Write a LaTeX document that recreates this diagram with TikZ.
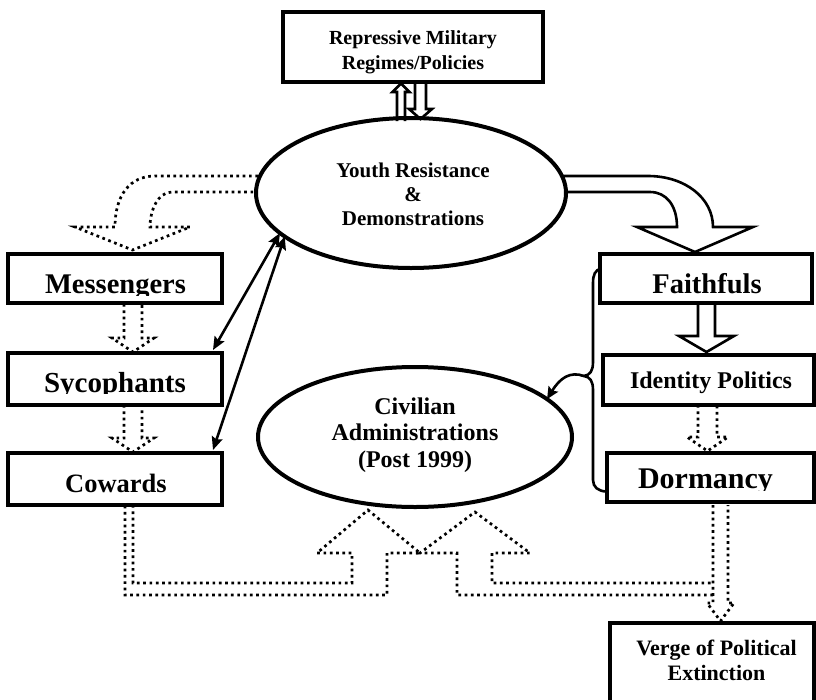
\documentclass[tikz,border=0pt]{standalone}
\usepackage{fontspec}
\setmainfont{Liberation Serif}
\usetikzlibrary{arrows.meta,shapes.geometric,calc}
\begin{document}
\begin{tikzpicture}[x=1pt,y=-1pt,
  boxn/.style={draw, line width=3.3pt, inner sep=0pt, outer sep=0pt},
  ell/.style={draw, ellipse, line width=4pt, inner sep=0pt, outer sep=0pt},
  txt/.style={align=center, inner sep=0pt, outer sep=0pt},
  blk/.style={line width=2.6pt, line join=miter},
  dotb/.style={line width=2.7pt, dash pattern=on 2.7pt off 3.6pt},
  tip/.style={line width=2.6pt},
  conn/.style={tip, {Stealth[length=13pt,width=11pt,inset=2pt]}-{Stealth[length=13pt,width=11pt,inset=2pt]}},
  one/.style={tip, -{Stealth[length=12pt,width=11pt,inset=2pt]}},
]
\useasboundingbox (0,0) rectangle (816,699);

% ---------- nodes ----------
\node[boxn, minimum width=260pt, minimum height=70pt] (rep) at (413,47) {};
\node[txt, font=\bfseries\fontsize{20}{25}\selectfont] (repT) at (413,52.5) {Repressive Military\\Regimes/Policies};

\node[ell, minimum width=310pt, minimum height=150pt] (youth) at (411,193) {};
\node[txt, font=\bfseries\fontsize{21}{24}\selectfont] (youthT) at (413,194.5) {Youth Resistance\\\&\\Demonstrations};

\node[ell, minimum width=314pt, minimum height=140pt] (civ) at (415,437) {};
\node[txt, font=\bfseries\fontsize{24}{26.5}\selectfont] (civT) at (415,435) {Civilian\\Administrations\\(Post 1999)};

\node[boxn, minimum width=214pt, minimum height=49pt] (mess) at (115,278.5) {};
\node[boxn, minimum width=214pt, minimum height=52pt] (syc) at (115,379) {};
\node[boxn, minimum width=214pt, minimum height=52pt] (cow) at (115,479) {};
\node[boxn, minimum width=212pt, minimum height=49pt] (faith) at (706,278.5) {};
\node[boxn, minimum width=211pt, minimum height=50pt] (ident) at (708.5,380) {};
\node[boxn, minimum width=207pt, minimum height=49pt] (dorm) at (710.5,477.5) {};
\node[boxn, minimum width=204pt, minimum height=92pt] (verge) at (712,669) {};

\begin{scope}
  \clip (10,256) rectangle (220,295.5);
  \node[txt, font=\bfseries\fontsize{28.5}{30}\selectfont, anchor=base] (messT) at (115.5,293) {Messengers};
\end{scope}
\begin{scope}
  \clip (10,355) rectangle (220,393.5);
  \node[txt, font=\bfseries\fontsize{29}{30}\selectfont, anchor=base] (sycT) at (115,392) {Sycophants};
\end{scope}
\node[txt, font=\bfseries\fontsize{26.5}{30}\selectfont, anchor=base] (cowT) at (116,492) {Cowards};
\node[txt, font=\bfseries\fontsize{28.5}{30}\selectfont, anchor=base] (faithT) at (707,293) {Faithfuls};
\node[txt, font=\bfseries\fontsize{24}{26}\selectfont, anchor=base] (identT) at (711,388) {Identity Politics};
\begin{scope}
  \clip (609,455) rectangle (812,490);
  \node[txt, font=\bfseries\fontsize{30}{32}\selectfont, anchor=base] (dormT) at (705.5,488) {Dormancy};
\end{scope}
\node[txt, font=\bfseries\fontsize{22}{25}\selectfont] (vergeT) at (716.5,660) {Verge of Political\\Extinction};

% ---------- block arrows ----------
% between repressive box and youth ellipse
\draw[blk] (397,121) -- (397,92) -- (392.5,92) -- (401,83.5) -- (409.5,92) -- (405,92) -- (405,121);
\draw[blk] (415,82) -- (415,109) -- (409,109) -- (420.5,119) -- (432,109) -- (426,109) -- (426,82);

% youth -> faithfuls (solid hollow curved)
\draw[blk] (563,176) -- (648,176) .. controls (685,176) and (713,198) .. (713,227)
  -- (753,227) -- (695,252) -- (637,227) -- (677,227)
  .. controls (677,205) and (666,192) .. (650,192) -- (566,192);

% youth -> messengers (dotted hollow curved)
\draw[dotb] (258,176) -- (155,176) .. controls (130,176) and (115,195) .. (115,227)
  -- (75,227) -- (132.5,250) -- (190,227) -- (150,227)
  .. controls (150,210) and (158,192) .. (172,192) -- (255,192);

% faithfuls -> identity (solid)
\draw[blk] (698,304) -- (698,336) -- (679,336) -- (706.5,352) -- (734,336) -- (715,336) -- (715,304);

% dotted small arrows
\draw[dotb] (124,304) -- (124,338) -- (112,338) -- (133,352) -- (154,338) -- (142,338) -- (142,304);
\draw[dotb] (124,405) -- (124,438) -- (112,438) -- (133,452) -- (154,438) -- (142,438) -- (142,405);
\draw[dotb] (698,405) -- (698,437) -- (687,437) -- (707.5,451) -- (728,437) -- (717,437) -- (717,405);

% bottom dotted arrows into civilian ellipse
\draw[dotb] (133,505) -- (133,583) -- (352,583) -- (352,553) -- (317,553) -- (368,510)
  -- (420,553) -- (387,553) -- (387,595) -- (125,595) -- (125,505);
\draw[dotb] (713,595) -- (457,595) -- (457,553) -- (420,553) -- (475,512) -- (530,553)
  -- (492,553) -- (492,583) -- (713,583);
% dormancy -> verge
\draw[dotb] (713,505) -- (713,603) -- (707,603) -- (720.5,621) -- (734,603) -- (728,603) -- (728,505);

% ---------- line connectors ----------
\draw[conn] ($(syc.north east)+(-9,-3)$) -- (youth.197);
\draw[conn] ($(cow.north east)+(-9,-3)$) -- (youth.199);

\coordinate (brk) at (584,376);
\draw[tip] ($(faith.west)+(1,-10)$) .. controls (595,270) and (593,275) .. (593,283) -- (593,362)
  .. controls (593,371) and (590,375) .. (brk)
  .. controls (590,377) and (593,381) .. (593,390) -- (593,480)
  .. controls (593,487) and (598,491) .. ($(dorm.west)+(-1,14)$);
\draw[one] (brk) .. controls (570,371) and (560,378) .. (civ.16);
\end{tikzpicture}
\end{document}
